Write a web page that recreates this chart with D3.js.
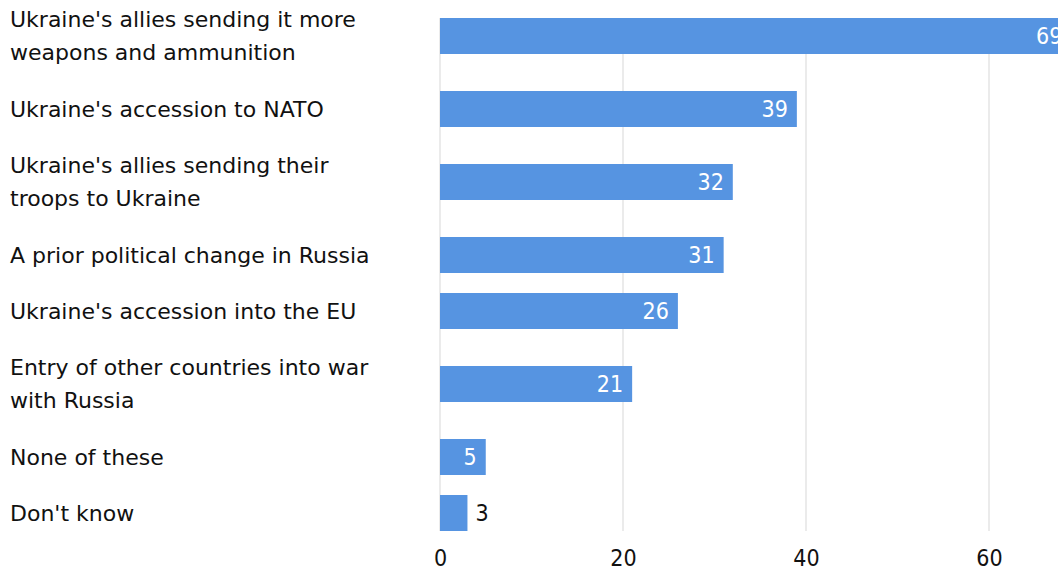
<!DOCTYPE html>
<html>
<head>
<meta charset="utf-8">
<script src="https://cdn.jsdelivr.net/npm/d3@7"></script>
<style>
  body { margin: 0; background: #fff; }
  svg { display: block; }
</style>
</head>
<body>
<div id="chartContainer"></div>
<script>
var categories = [
  ["Ukraine's allies sending it more", "weapons and ammunition"],
  ["Ukraine's accession to NATO"],
  ["Ukraine's allies sending their", "troops to Ukraine"],
  ["A prior political change in Russia"],
  ["Ukraine's accession into the EU"],
  ["Entry of other countries into war", "with Russia"],
  ["None of these"],
  ["Don't know"]
];
var values = [69, 39, 32, 31, 26, 21, 5, 3];
var ticks = [0, 20, 40, 60];

var WIDTH = 1058,
  HEIGHT = 573,
  MARGINS = { top: -9, left: 440 },
  BAR_H = 36,
  LINE_H = 33,
  LABEL_SIZE = 22,
  labelFont = "'DejaVu Sans', sans-serif",
  numFont = "'DejaVu Sans Condensed', 'DejaVu Sans', sans-serif";

// row heights depend on how many lines the label has
var rowH = categories.map(function (c) { return c.length > 1 ? 90 : 56; });
var centers = [], acc = MARGINS.top;
rowH.forEach(function (h) { centers.push(acc + h / 2); acc += h; });

var keys = categories.map(function (c) { return c.join(" "); });
var yPos = d3.scaleOrdinal().domain(keys).range(centers);
var xRange = d3.scaleLinear().domain([0, 60]).range([MARGINS.left, 989]);

var svg = d3.select("#chartContainer").append("svg")
  .attr("width", WIDTH)
  .attr("height", HEIGHT);

var gridTop = yPos(keys[0]) - BAR_H / 2,
  gridBottom = yPos(keys[keys.length - 1]) + BAR_H / 2;

svg.append("g").selectAll("line")
  .data(ticks)
  .enter().append("line")
  .attr("x1", function (d) { return xRange(d); })
  .attr("x2", function (d) { return xRange(d); })
  .attr("y1", gridTop)
  .attr("y2", gridBottom)
  .attr("stroke", "#e5e5e5")
  .attr("stroke-width", 1.5);

svg.append("g").selectAll("rect")
  .data(values)
  .enter().append("rect")
  .attr("x", xRange(0))
  .attr("y", function (d, i) { return yPos(keys[i]) - BAR_H / 2; })
  .attr("width", function (d) { return xRange(d) - xRange(0); })
  .attr("height", BAR_H)
  .attr("fill", "#5694e1");

// value labels: inside the bar when it fits
svg.append("g").selectAll("text")
  .data(values)
  .enter().append("text")
  .attr("x", function (d) { return d > 4 ? xRange(d) - 9 : xRange(d) + 8; })
  .attr("y", function (d, i) { return yPos(keys[i]); })
  .attr("dy", "0.36em")
  .attr("text-anchor", function (d) { return d > 4 ? "end" : "start"; })
  .style("font-family", numFont)
  .style("font-size", "23px")
  .style("fill", function (d) { return d > 4 ? "#fff" : "#111"; })
  .text(function (d) { return d; });

// category labels
var lab = svg.append("g").selectAll("text")
  .data(categories)
  .enter().append("text")
  .attr("x", 10)
  .attr("y", function (d, i) { return yPos(keys[i]); })
  .style("font-family", labelFont)
  .style("font-size", LABEL_SIZE + "px")
  .style("fill", "#111");

lab.selectAll("tspan")
  .data(function (d) { return d.map(function (t, j) { return { t: t, j: j, n: d.length }; }); })
  .enter().append("tspan")
  .attr("x", 10)
  .attr("dy", function (d) {
    var off = d.j === 0 ? -(d.n - 1) * LINE_H / 2 : LINE_H;
    return (d.j === 0 ? off + 0.36 * LABEL_SIZE : off) + "px";
  })
  .text(function (d) { return d.t; });

var xAxis = d3.axisBottom().scale(xRange).tickValues(ticks).tickSize(0).tickPadding(0);

svg.append("g")
  .attr("transform", "translate(0,549)")
  .call(xAxis)
  .call(function (g) { g.select(".domain").remove(); })
  .selectAll("text")
  .attr("dy", "0.72em")
  .style("font-family", numFont)
  .style("font-size", "23px")
  .style("fill", "#111");
</script>
</body>
</html>
